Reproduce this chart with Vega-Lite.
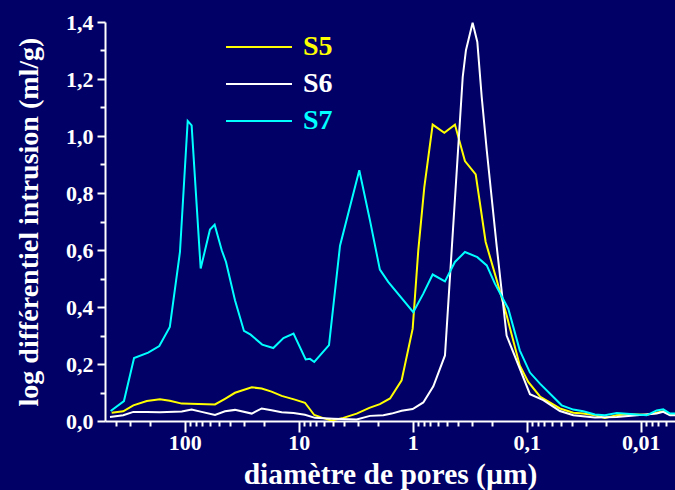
{
  "$schema": "https://vega.github.io/schema/vega-lite/v6.json",
  "width": 570,
  "height": 399,
  "autosize": {"type": "none"},
  "padding": {"left": 105, "top": 22, "right": 0, "bottom": 69},
  "background": "#000066",
  "config": {
    "view": {"stroke": null},
    "font": "Liberation Serif"
  },
  "data": {
    "values": [
      {"s": "S5", "d": 437, "v": 0.029},
      {"s": "S5", "d": 346, "v": 0.034},
      {"s": "S5", "d": 282, "v": 0.055},
      {"s": "S5", "d": 215, "v": 0.070},
      {"s": "S5", "d": 165, "v": 0.076},
      {"s": "S5", "d": 135, "v": 0.071},
      {"s": "S5", "d": 106, "v": 0.061},
      {"s": "S5", "d": 54.2, "v": 0.058},
      {"s": "S5", "d": 44.3, "v": 0.078},
      {"s": "S5", "d": 36.2, "v": 0.099},
      {"s": "S5", "d": 25.8, "v": 0.118},
      {"s": "S5", "d": 21.1, "v": 0.114},
      {"s": "S5", "d": 17.3, "v": 0.103},
      {"s": "S5", "d": 14.1, "v": 0.088},
      {"s": "S5", "d": 10.8, "v": 0.075},
      {"s": "S5", "d": 8.81, "v": 0.064},
      {"s": "S5", "d": 7.30, "v": 0.021},
      {"s": "S5", "d": 6.08, "v": 0.010},
      {"s": "S5", "d": 5.14, "v": 0.002},
      {"s": "S5", "d": 4.06, "v": 0.011},
      {"s": "S5", "d": 3.10, "v": 0.026},
      {"s": "S5", "d": 2.40, "v": 0.046},
      {"s": "S5", "d": 1.94, "v": 0.059},
      {"s": "S5", "d": 1.58, "v": 0.079},
      {"s": "S5", "d": 1.25, "v": 0.143},
      {"s": "S5", "d": 1.00, "v": 0.324},
      {"s": "S5", "d": 0.893, "v": 0.599},
      {"s": "S5", "d": 0.791, "v": 0.82},
      {"s": "S5", "d": 0.668, "v": 1.040},
      {"s": "S5", "d": 0.528, "v": 1.011},
      {"s": "S5", "d": 0.426, "v": 1.040},
      {"s": "S5", "d": 0.348, "v": 0.912},
      {"s": "S5", "d": 0.280, "v": 0.865},
      {"s": "S5", "d": 0.229, "v": 0.628},
      {"s": "S5", "d": 0.183, "v": 0.494},
      {"s": "S5", "d": 0.150, "v": 0.371},
      {"s": "S5", "d": 0.115, "v": 0.195},
      {"s": "S5", "d": 0.0969, "v": 0.137},
      {"s": "S5", "d": 0.0765, "v": 0.086},
      {"s": "S5", "d": 0.0511, "v": 0.044},
      {"s": "S5", "d": 0.0390, "v": 0.029},
      {"s": "S5", "d": 0.0319, "v": 0.026},
      {"s": "S5", "d": 0.0252, "v": 0.020},
      {"s": "S5", "d": 0.0206, "v": 0.011},
      {"s": "S5", "d": 0.0162, "v": 0.020},
      {"s": "S5", "d": 0.0133, "v": 0.024},
      {"s": "S5", "d": 0.00886, "v": 0.022},
      {"s": "S5", "d": 0.00724, "v": 0.029},
      {"s": "S5", "d": 0.00634, "v": 0.034},
      {"s": "S5", "d": 0.00553, "v": 0.022},
      {"s": "S5", "d": 0.005, "v": 0.022},

      {"s": "S6", "d": 452, "v": 0.014},
      {"s": "S6", "d": 346, "v": 0.020},
      {"s": "S6", "d": 282, "v": 0.032},
      {"s": "S6", "d": 215, "v": 0.032},
      {"s": "S6", "d": 165, "v": 0.031},
      {"s": "S6", "d": 106, "v": 0.033},
      {"s": "S6", "d": 86.9, "v": 0.040},
      {"s": "S6", "d": 71.0, "v": 0.032},
      {"s": "S6", "d": 54.2, "v": 0.021},
      {"s": "S6", "d": 44.3, "v": 0.034},
      {"s": "S6", "d": 36.2, "v": 0.039},
      {"s": "S6", "d": 25.8, "v": 0.026},
      {"s": "S6", "d": 21.1, "v": 0.044},
      {"s": "S6", "d": 17.3, "v": 0.038},
      {"s": "S6", "d": 14.1, "v": 0.031},
      {"s": "S6", "d": 11.1, "v": 0.028},
      {"s": "S6", "d": 8.81, "v": 0.022},
      {"s": "S6", "d": 7.19, "v": 0.011},
      {"s": "S6", "d": 4.97, "v": 0.008},
      {"s": "S6", "d": 3.10, "v": 0.005},
      {"s": "S6", "d": 2.37, "v": 0.018},
      {"s": "S6", "d": 1.81, "v": 0.020},
      {"s": "S6", "d": 1.53, "v": 0.026},
      {"s": "S6", "d": 1.25, "v": 0.036},
      {"s": "S6", "d": 1.00, "v": 0.042},
      {"s": "S6", "d": 0.807, "v": 0.065},
      {"s": "S6", "d": 0.659, "v": 0.122},
      {"s": "S6", "d": 0.521, "v": 0.230},
      {"s": "S6", "d": 0.364, "v": 1.207},
      {"s": "S6", "d": 0.341, "v": 1.301},
      {"s": "S6", "d": 0.298, "v": 1.397},
      {"s": "S6", "d": 0.271, "v": 1.330},
      {"s": "S6", "d": 0.248, "v": 1.137},
      {"s": "S6", "d": 0.224, "v": 0.950},
      {"s": "S6", "d": 0.183, "v": 0.611},
      {"s": "S6", "d": 0.150, "v": 0.300},
      {"s": "S6", "d": 0.0936, "v": 0.094},
      {"s": "S6", "d": 0.0715, "v": 0.073},
      {"s": "S6", "d": 0.0511, "v": 0.035},
      {"s": "S6", "d": 0.0390, "v": 0.020},
      {"s": "S6", "d": 0.0252, "v": 0.012},
      {"s": "S6", "d": 0.0162, "v": 0.014},
      {"s": "S6", "d": 0.0108, "v": 0.020},
      {"s": "S6", "d": 0.00724, "v": 0.026},
      {"s": "S6", "d": 0.00634, "v": 0.032},
      {"s": "S6", "d": 0.00553, "v": 0.020},
      {"s": "S6", "d": 0.005, "v": 0.020},

      {"s": "S7", "d": 446, "v": 0.035},
      {"s": "S7", "d": 341, "v": 0.070},
      {"s": "S7", "d": 278, "v": 0.221},
      {"s": "S7", "d": 209, "v": 0.240},
      {"s": "S7", "d": 167, "v": 0.263},
      {"s": "S7", "d": 135, "v": 0.330},
      {"s": "S7", "d": 110, "v": 0.593},
      {"s": "S7", "d": 94.1, "v": 1.053},
      {"s": "S7", "d": 86.9, "v": 1.037},
      {"s": "S7", "d": 72.4, "v": 0.535},
      {"s": "S7", "d": 60.0, "v": 0.672},
      {"s": "S7", "d": 54.6, "v": 0.689},
      {"s": "S7", "d": 47.3, "v": 0.599},
      {"s": "S7", "d": 43.4, "v": 0.558},
      {"s": "S7", "d": 36.2, "v": 0.424},
      {"s": "S7", "d": 30.2, "v": 0.316},
      {"s": "S7", "d": 26.4, "v": 0.303},
      {"s": "S7", "d": 20.9, "v": 0.268},
      {"s": "S7", "d": 16.7, "v": 0.256},
      {"s": "S7", "d": 13.6, "v": 0.291},
      {"s": "S7", "d": 11.1, "v": 0.307},
      {"s": "S7", "d": 8.68, "v": 0.216},
      {"s": "S7", "d": 7.96, "v": 0.218},
      {"s": "S7", "d": 7.30, "v": 0.207},
      {"s": "S7", "d": 5.42, "v": 0.266},
      {"s": "S7", "d": 4.34, "v": 0.615},
      {"s": "S7", "d": 2.94, "v": 0.880},
      {"s": "S7", "d": 2.37, "v": 0.704},
      {"s": "S7", "d": 1.94, "v": 0.531},
      {"s": "S7", "d": 1.64, "v": 0.488},
      {"s": "S7", "d": 0.988, "v": 0.382},
      {"s": "S7", "d": 0.807, "v": 0.447},
      {"s": "S7", "d": 0.668, "v": 0.514},
      {"s": "S7", "d": 0.521, "v": 0.490},
      {"s": "S7", "d": 0.426, "v": 0.558},
      {"s": "S7", "d": 0.348, "v": 0.593},
      {"s": "S7", "d": 0.271, "v": 0.575},
      {"s": "S7", "d": 0.224, "v": 0.546},
      {"s": "S7", "d": 0.190, "v": 0.482},
      {"s": "S7", "d": 0.145, "v": 0.394},
      {"s": "S7", "d": 0.115, "v": 0.248},
      {"s": "S7", "d": 0.0936, "v": 0.170},
      {"s": "S7", "d": 0.0765, "v": 0.131},
      {"s": "S7", "d": 0.0493, "v": 0.055},
      {"s": "S7", "d": 0.0390, "v": 0.040},
      {"s": "S7", "d": 0.0319, "v": 0.034},
      {"s": "S7", "d": 0.0252, "v": 0.023},
      {"s": "S7", "d": 0.0206, "v": 0.020},
      {"s": "S7", "d": 0.0162, "v": 0.028},
      {"s": "S7", "d": 0.0108, "v": 0.023},
      {"s": "S7", "d": 0.00886, "v": 0.020},
      {"s": "S7", "d": 0.00724, "v": 0.037},
      {"s": "S7", "d": 0.00634, "v": 0.041},
      {"s": "S7", "d": 0.00553, "v": 0.026},
      {"s": "S7", "d": 0.005, "v": 0.026}
    ]
  },
  "mark": {"type": "line", "strokeWidth": 2, "clip": true},
  "encoding": {
    "x": {
      "field": "d",
      "type": "quantitative",
      "scale": {"type": "log", "domain": [500, 0.005], "nice": false},
      "axis": {
        "title": "diamètre de pores (µm)",
        "titleFontSize": 29.5,
        "titleFontWeight": "bold",
        "titleColor": "#ffffff",
        "titlePadding": 7,
        "values": [400, 300, 200, 100, 90, 80, 70, 60, 50, 40, 30, 20, 10, 9, 8, 7, 6, 5, 4, 3, 2, 1, 0.9, 0.8, 0.7, 0.6, 0.5, 0.4, 0.3, 0.2, 0.1, 0.09, 0.08, 0.07, 0.06, 0.05, 0.04, 0.03, 0.02, 0.01, 0.009, 0.008, 0.007, 0.006],
        "labelExpr": "abs(log(datum.value)/LN10 - round(log(datum.value)/LN10)) < 0.000001 ? replace(toString(datum.value), '.', ',') : ''",
        "labelFontSize": 22,
        "labelFontWeight": "bold",
        "labelColor": "#ffffff",
        "labelOverlap": false,
        "labelBound": false,
        "labelFlush": false,
        "labelPadding": 0,
        "grid": false,
        "domainColor": "#ffffff",
        "domainWidth": 2,
        "tickColor": "#ffffff",
        "tickWidth": 2,
        "tickSize": {"condition": {"test": "abs(log(datum.value)/LN10 - round(log(datum.value)/LN10)) < 0.000001", "value": 11}, "value": 5}
      }
    },
    "y": {
      "field": "v",
      "type": "quantitative",
      "scale": {"domain": [0, 1.4], "nice": false},
      "axis": {
        "title": "log différentiel intrusion (ml/g)",
        "titleFontSize": 28,
        "titleFontWeight": "bold",
        "titleColor": "#ffffff",
        "titlePadding": 22,
        "values": [0, 0.1, 0.2, 0.3, 0.4, 0.5, 0.6, 0.7, 0.8, 0.9, 1.0, 1.1, 1.2, 1.3, 1.4],
        "labelExpr": "round(datum.value*10) % 2 == 0 ? replace(format(datum.value, '.1f'), '.', ',') : ''",
        "labelFontSize": 22,
        "labelFontWeight": "bold",
        "labelColor": "#ffffff",
        "labelOverlap": false,
        "labelBound": false,
        "labelFlush": false,
        "labelPadding": 4,
        "grid": false,
        "domainColor": "#ffffff",
        "domainWidth": 2,
        "tickColor": "#ffffff",
        "tickWidth": 2,
        "tickSize": {"condition": {"test": "round(datum.value*10) % 2 == 0", "value": 8}, "value": 5}
      }
    },
    "color": {
      "field": "s",
      "type": "nominal",
      "scale": {"domain": ["S5", "S6", "S7"], "range": ["#ffff00", "#ffffff", "#00ffff"]},
      "legend": {
        "title": null,
        "orient": "none",
        "legendX": 140,
        "legendY": 11,
        "symbolType": "M-3,0H3",
        "symbolSize": 484,
        "symbolStrokeWidth": 2,
        "symbolFillColor": "transparent",
        "labelFontSize": 28,
        "labelFontWeight": "bold",
        "labelColor": {"expr": "datum.label == 'S5' ? '#ffff00' : datum.label == 'S7' ? '#00ffff' : '#ffffff'"},
        "labelOffset": 30,
        "rowPadding": 9,
        "padding": 0
      }
    }
  }
}
